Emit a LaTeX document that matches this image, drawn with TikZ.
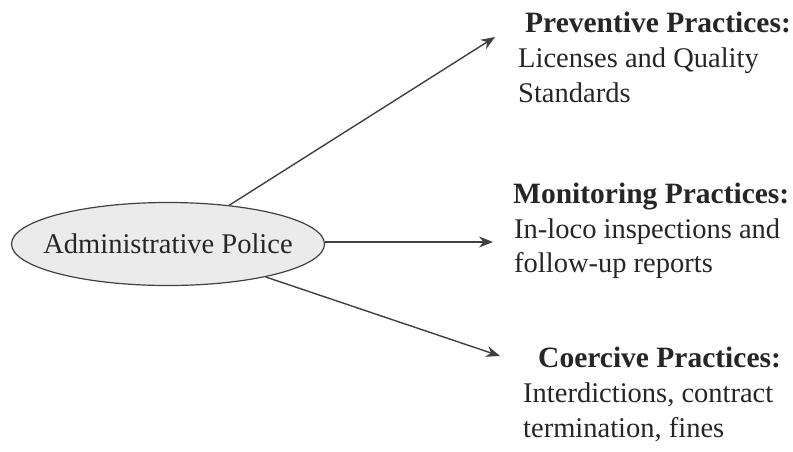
\documentclass[tikz,border=0pt]{standalone}
\usepackage{fontspec}
\setmainfont{Liberation Serif}
\usetikzlibrary{shapes.geometric,arrows.meta}
\definecolor{linegray}{HTML}{404040}
\definecolor{ellfill}{HTML}{EBEBEB}
\tikzset{
  ellbox/.style={ellipse,draw=linegray,line width=1.2pt,fill=ellfill,minimum width=313pt,minimum height=83pt,inner sep=0pt,font=\fontsize{28.5}{34}\selectfont,text=black!85},
  conn/.style={draw=linegray,line width=1.4pt,-{Stealth[length=14pt,width=11pt]}},
  headtxt/.style={anchor=base west,inner sep=0pt,font=\fontsize{29.5}{34}\selectfont\bfseries,text=black!85},
  bodytxt/.style={anchor=base west,inner sep=0pt,font=\fontsize{28.5}{34}\selectfont,text=black!85}
}
\begin{document}
\begin{tikzpicture}[x=1pt,y=-1pt]
\useasboundingbox (0,0) rectangle (793,451);
\node[ellbox] (ell) at (168,244) {\makebox[0pt]{Administrative Police}};
\coordinate (t1) at (495,37);
\coordinate (t2) at (493,242);
\coordinate (t3) at (500,356);
\draw[conn] (ell) -- (t1);
\draw[conn] (ell.east |- t2) -- (t2);
\draw[conn] (ell) -- (t3);
\node[headtxt] (h1) at (525,32) {Preventive Practices:};
\node[bodytxt] (b1a) at (518,67) {Licenses and Quality};
\node[bodytxt] (b1b) at (518,102) {Standards};
\node[headtxt] (h2) at (513,203) {Monitoring Practices:};
\node[bodytxt] (b2a) at (514,238) {In-loco inspections and};
\node[bodytxt] (b2b) at (514,272) {follow-up reports};
\node[headtxt] (h3) at (538,367) {Coercive Practices:};
\node[bodytxt] (b3a) at (523,402) {Interdictions, contract};
\node[bodytxt] (b3b) at (523,437) {termination, fines};
\end{tikzpicture}
\end{document}
